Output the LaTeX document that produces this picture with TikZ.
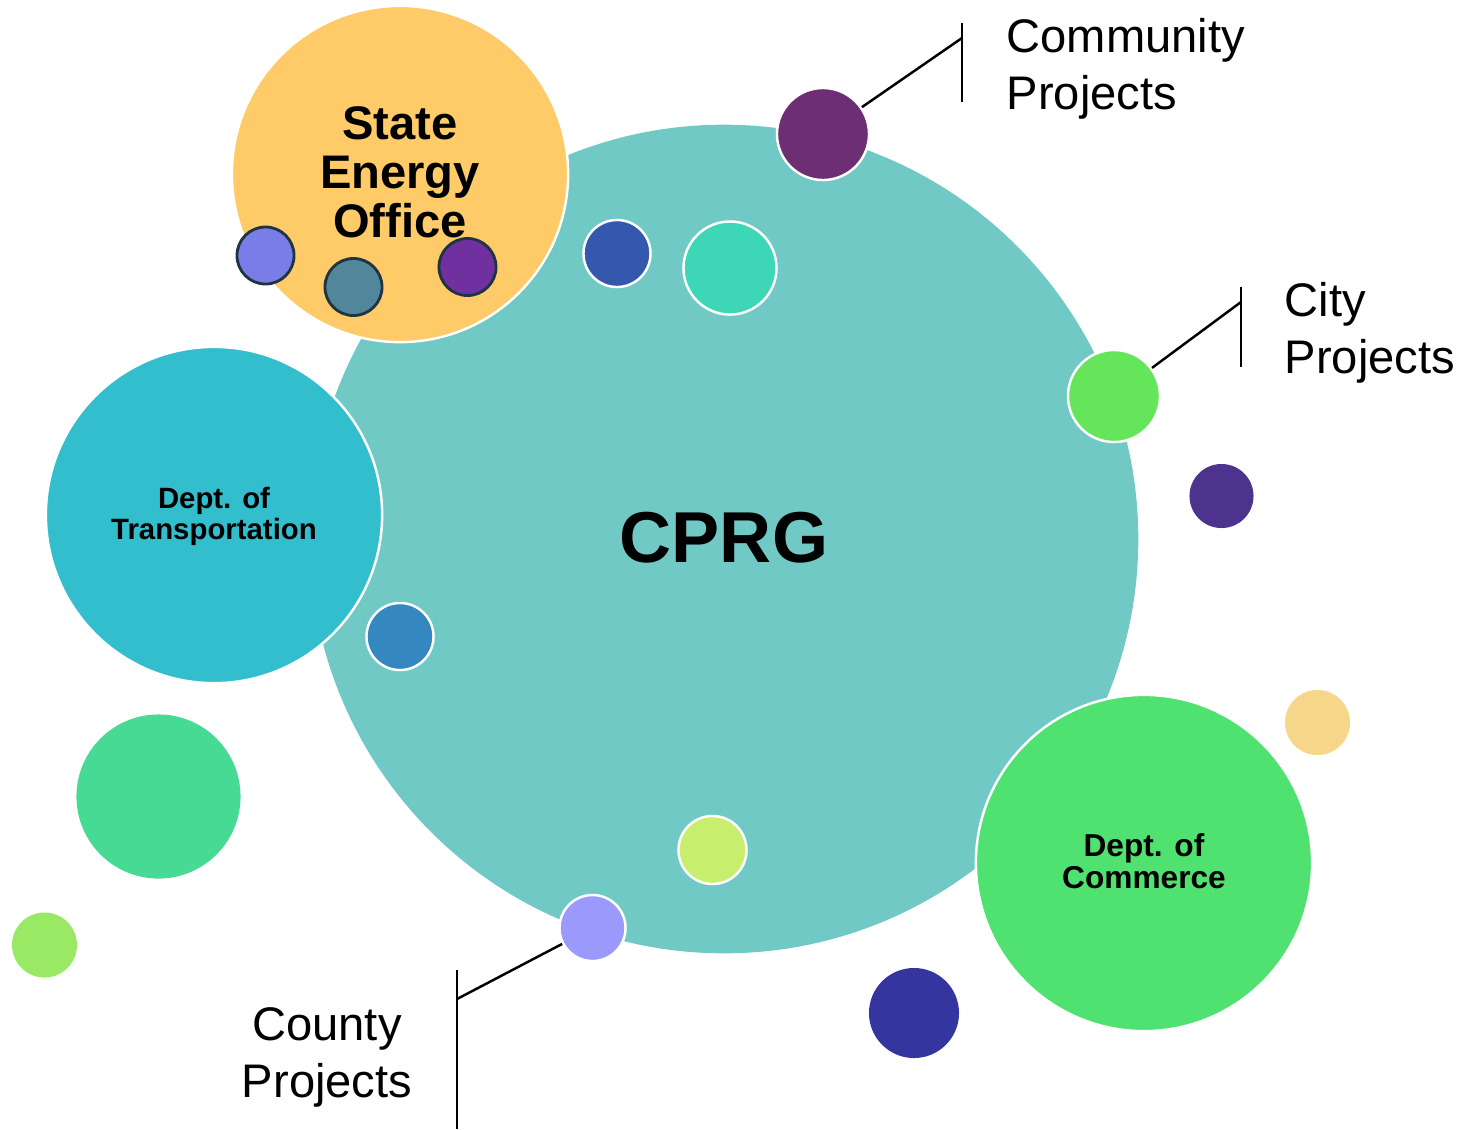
\documentclass[tikz,border=0pt]{standalone}
\usepackage{fontspec}
\setmainfont{Liberation Sans}
\definecolor{cMain}{HTML}{71C9C5}
\definecolor{cSEO}{HTML}{FECB68}
\definecolor{cDOT}{HTML}{33BECE}
\definecolor{cDOC}{HTML}{50E270}
\definecolor{cComm}{HTML}{6D2E74}
\definecolor{cCity}{HTML}{65E65A}
\definecolor{cCounty}{HTML}{9B99FC}
\definecolor{cLav}{HTML}{787DE8}
\definecolor{cSteel}{HTML}{52869A}
\definecolor{cPurp}{HTML}{7030A0}
\definecolor{cBlue}{HTML}{3458AE}
\definecolor{cAqua}{HTML}{3DD6B6}
\definecolor{cDPurp}{HTML}{4D328E}
\definecolor{cSBlue}{HTML}{3487BF}
\definecolor{cGreen}{HTML}{47DA94}
\definecolor{cLGreen}{HTML}{9AE964}
\definecolor{cYG}{HTML}{C8EE6E}
\definecolor{cPeach}{HTML}{F6D688}
\definecolor{cNavy}{HTML}{3535A0}
\definecolor{cEdge}{HTML}{1F3344}
\tikzset{
  bub/.style={circle, inner sep=0pt, minimum size=#1*0.02cm},
  wbub/.style={bub=#1, draw=white, line width=0.7pt},
  dbub/.style={bub=#1, draw=cEdge, line width=0.8pt},
  callout/.style={draw=black, line width=0.7pt},
  lbl/.style={inner sep=0pt, font=\fontsize{13.4}{16}\selectfont},
}
\begin{document}
\begin{tikzpicture}[x=0.01cm, y=-0.01cm]
\useasboundingbox (0,0) rectangle (1466,1129);
% main circle
\node[bub=414, fill=cMain] (cprg) at (724,539) {};
% big bubbles
\node[wbub=168, fill=cSEO] (seo) at (400,174) {};
\node[wbub=168, fill=cDOT] (dot) at (214,515) {};
\node[wbub=168, fill=cDOC] (doc) at (1144,863) {};
% texts
\node[inner sep=0pt, anchor=base, font=\fontsize{20.5}{24}\selectfont\bfseries] (cprgt) at (724,562) {CPRG};
\node[inner sep=0pt, anchor=base, align=center, font=\fontsize{13.4}{13.9}\selectfont\bfseries] (seot) at (400,237) {State\\Energy\\Office};
\node[inner sep=0pt, anchor=base, align=center, font=\fontsize{8.35}{8.8}\selectfont\bfseries] (dott) at (214,539) {Dept. of\\Transportation};
\node[inner sep=0pt, anchor=base, align=center, font=\fontsize{9}{9.1}\selectfont\bfseries] (doct) at (1144,888) {Dept. of\\Commerce};
% small bubbles in SEO
\node[dbub=28.5, fill=cLav] (s1) at (265.5,255.5) {};
\node[dbub=28.5, fill=cSteel] (s2) at (353.5,287) {};
\node[dbub=28.5, fill=cPurp] (s3) at (467.5,267) {};
% bubbles on main
\node[wbub=33.5, fill=cBlue] (b1) at (617,253.5) {};
\node[wbub=46.5, fill=cAqua] (b2) at (730,268) {};
\node[wbub=33.5, fill=cSBlue] (b3) at (400,636.5) {};
\node[wbub=34, fill=cYG] (b4) at (712.5,850) {};
% loose bubbles
\node[bub=32, fill=cDPurp] (b5) at (1221.5,496) {};
\node[bub=82, fill=cGreen] (b6) at (158.5,796.5) {};
\node[bub=32.5, fill=cLGreen] (b7) at (44.5,945) {};
\node[bub=32.5, fill=cPeach] (b8) at (1317.5,722.5) {};
\node[bub=45, fill=cNavy] (b9) at (914,1013) {};
% project bubbles
\node[wbub=46, fill=cComm] (comm) at (823,134) {};
\node[wbub=46, fill=cCity] (city) at (1114,396) {};
\node[wbub=33, fill=cCounty] (county) at (592.5,928) {};
% callouts
\coordinate (commj) at (962,38);
\coordinate (commt) at (962,23);
\coordinate (commb) at (962,102);
\draw[callout] (comm) -- (commj);
\draw[callout] (commt) -- (commb);
\coordinate (cityj) at (1241,302);
\coordinate (cityt) at (1241,287);
\coordinate (cityb) at (1241,367);
\draw[callout] (city) -- (cityj);
\draw[callout] (cityt) -- (cityb);
\coordinate (cntyj) at (457,999);
\coordinate (cntyt) at (457,970);
\coordinate (cntyb) at (457,1129);
\draw[callout] (county) -- (cntyj);
\draw[callout] (cntyt) -- (cntyb);
% labels
\node[lbl, anchor=base west, align=left] (commlbl) at (1006,109) {Community\\Projects};
\node[lbl, anchor=base west, align=left] (citylbl) at (1284,373) {City\\Projects};
\node[lbl, anchor=base, align=center] (cntylbl) at (327,1097) {County\\Projects};
\end{tikzpicture}
\end{document}
